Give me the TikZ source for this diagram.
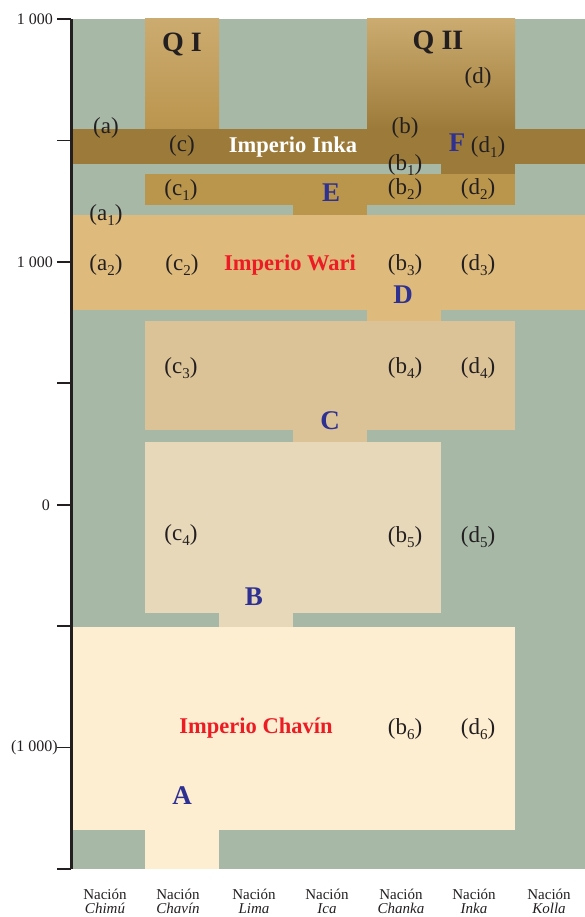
\documentclass[tikz,border=0pt]{standalone}
\usepackage{fontspec}
\setmainfont{Liberation Serif}

\definecolor{sage}{RGB}{167,184,166}
\definecolor{qtop}{RGB}{204,171,112}
\definecolor{qmid}{RGB}{186,149,78}
\definecolor{inka}{RGB}{156,123,58}
\definecolor{inkalight}{RGB}{186,149,76}
\definecolor{wari}{RGB}{222,187,124}
\definecolor{middle}{RGB}{219,195,151}
\definecolor{early}{RGB}{232,216,186}
\definecolor{chavin}{RGB}{253,238,209}
\definecolor{ink}{RGB}{35,31,32}
\definecolor{stageblue}{RGB}{46,49,146}
\definecolor{empirered}{RGB}{237,28,36}

% subscript for the site labels
\newcommand{\sitesub}[1]{\raisebox{-0.2em}{\fontsize{15}{15}\selectfont #1}}

\tikzset{
  site/.style={font=\fontsize{23}{25}\selectfont, text=ink, inner sep=0pt},
  stage/.style={font=\bfseries\fontsize{27}{30}\selectfont, text=stageblue, inner sep=0pt},
  empire/.style={font=\bfseries\fontsize{22.5}{26}\selectfont, text=empirered, inner sep=0pt},
  period/.style={font=\bfseries\fontsize{28}{30}\selectfont, text=ink, inner sep=0pt},
  nation/.style={font=\fontsize{15}{14}\selectfont, text=ink, align=center, inner sep=0pt, anchor=base},
  year/.style={font=\fontsize{16}{18}\selectfont, text=ink, inner sep=0pt, anchor=east}
}

\begin{document}
\begin{tikzpicture}[x=1pt,y=-1pt]
    \useasboundingbox (0,0) rectangle (585,917);

    % Background
    \fill[sage] (71,19) rectangle (585,869);

    % Q I and Q II
    \shade[top color=qtop, bottom color=qmid] (145,19) rectangle (219,129);
    \shade[top color=qtop, bottom color=inka] (367,19) rectangle (515,129);

    % Imperio Inka
    \fill[inka] (71,129) rectangle (585,164);
    \fill[inka] (441,164) rectangle (515,174);
    \fill[inkalight] (145,174) rectangle (515,205);
    \fill[inkalight] (293,205) rectangle (367,215);

    % Imperio Wari
    \fill[wari] (71,215) rectangle (585,310);
    \fill[wari] (367,310) rectangle (441,321);

    % Middle blocks
    \fill[middle] (145,321) rectangle (515,430);
    \fill[middle] (293,430) rectangle (367,442);
    \fill[early] (145,442) rectangle (441,613);
    \fill[early] (219,613) rectangle (293,627);

    % Imperio Chavin
    \fill[chavin] (71,627) rectangle (515,830);
    \fill[chavin] (145,830) rectangle (219,869);

    % Axis and ticks
    \draw[ink, line width=3pt] (71,19) -- (71,869);
    \foreach \k in {0,...,7}
        \draw[ink, line width=1.6pt] (57,19+121.43*\k) -- (71,19+121.43*\k);
    \node[year] (y1) at (53,19) {1 000};
    \node[year] (y2) at (53,262) {1 000};
    \node[year] (y3) at (50,505) {0};
    \node[year] (y4) at (58,748) {(1 000)};

    % Periods
    \node[period] (qi) at (182,45) {Q I};
    \node[period] (qii) at (438,43) {Q II};

    % Empires
    \node[empire, text=white] (inka) at (293,147) {Imperio Inka};
    \node[empire] (wari) at (290,265) {Imperio Wari};
    \node[empire] (chav) at (256,728) {Imperio Chavín};

    % Stages
    \node[stage] (sA) at (182,796) {A};
    \node[stage] (sB) at (254,597) {B};
    \node[stage] (sC) at (330,421) {C};
    \node[stage] (sD) at (403,295) {D};
    \node[stage] (sE) at (331,193) {E};
    \node[stage] (sF) at (457,143) {F};

    % Sites, column a
    \node[site] (a0) at (106,128) {(a)};
    \node[site] (a1) at (106,215) {(a\sitesub{1})};
    \node[site] (a2) at (106,265) {(a\sitesub{2})};

    % Sites, column c
    \node[site] (c0) at (182,146) {(c)};
    \node[site] (c1) at (181,190) {(c\sitesub{1})};
    \node[site] (c2) at (182,265) {(c\sitesub{2})};
    \node[site] (c3) at (181,368) {(c\sitesub{3})};
    \node[site] (c4) at (181,535) {(c\sitesub{4})};

    % Sites, column b
    \node[site] (b0) at (405,128) {(b)};
    \node[site] (b1) at (405,165) {(b\sitesub{1})};
    \node[site] (b2) at (405,189) {(b\sitesub{2})};
    \node[site] (b3) at (405,265) {(b\sitesub{3})};
    \node[site] (b4) at (405,368) {(b\sitesub{4})};
    \node[site] (b5) at (405,537) {(b\sitesub{5})};
    \node[site] (b6) at (405,729) {(b\sitesub{6})};

    % Sites, column d
    \node[site] (d0) at (478,78) {(d)};
    \node[site] (d1) at (488,147) {(d\sitesub{1})};
    \node[site] (d2) at (478,189) {(d\sitesub{2})};
    \node[site] (d3) at (478,265) {(d\sitesub{3})};
    \node[site] (d4) at (478,368) {(d\sitesub{4})};
    \node[site] (d5) at (478,537) {(d\sitesub{5})};
    \node[site] (d6) at (478,729) {(d\sitesub{6})};

    % Nations
    \node[nation] (nChimu) at (105,913) {Nación\\\textit{Chimú}};
    \node[nation] (nChavin) at (178,913) {Nación\\\textit{Chavín}};
    \node[nation] (nLima) at (254,913) {Nación\\\textit{Lima}};
    \node[nation] (nIca) at (327,913) {Nación\\\textit{Ica}};
    \node[nation] (nChanka) at (401,913) {Nación\\\textit{Chanka}};
    \node[nation] (nInka) at (474,913) {Nación\\\textit{Inka}};
    \node[nation] (nKolla) at (549,913) {Nación\\\textit{Kolla}};
\end{tikzpicture}
\end{document}
